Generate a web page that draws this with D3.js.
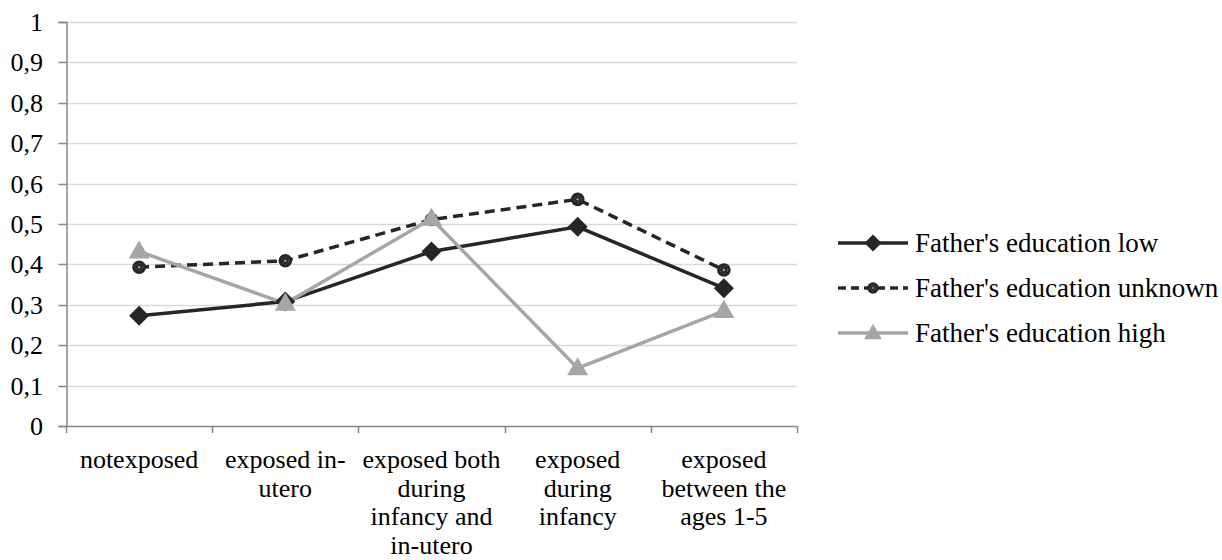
<!DOCTYPE html>
<html>
<head>
<meta charset="utf-8">
<script src="https://cdn.jsdelivr.net/npm/d3@7"></script>
</head>
<body style="margin:0">
<div id="chart"></div>
<script>
// categories, with the line breaks the labels use
var categories = ["notexposed", "exposed in-utero", "exposed both during infancy and in-utero", "exposed during infancy", "exposed between the ages 1-5"];
var categoryLines = [
    ["notexposed"],
    ["exposed in-", "utero"],
    ["exposed both", "during", "infancy and", "in-utero"],
    ["exposed", "during", "infancy"],
    ["exposed", "between the", "ages 1-5"]
];

var seriesNames = ["Father's education low", "Father's education unknown", "Father's education high"];
var lowValues = [0.273, 0.308, 0.432, 0.493, 0.341];
var unknownValues = [0.393, 0.409, 0.511, 0.561, 0.386];
var highValues = [0.432, 0.303, 0.513, 0.143, 0.285];

var yTicks = [0, 0.1, 0.2, 0.3, 0.4, 0.5, 0.6, 0.7, 0.8, 0.9, 1];

var width = 1222, height = 560;
var plot = { left: 66, right: 797, top: 22, bottom: 426 };

var svg = d3.select("#chart")
    .append("svg")
    .attr("width", width)
    .attr("height", height);

var x = d3.scaleBand().domain(categories).range([plot.left, plot.right]);
var y = d3.scaleLinear().domain([0, 1]).range([plot.bottom, plot.top]);

var locale = d3.formatLocale({ decimal: ",", thousands: ".", grouping: [3], currency: ["", ""] });
var fmt = locale.format("~g");

// helper: every text gets the serif face
function serifText(sel, size) {
    return sel.style("font-family", d => "'" + "Liberation Serif" + "'")
        .style("font-size", size + "px");
}

// gridlines
svg.append("g")
    .selectAll("line")
    .data(yTicks.slice(1))
    .join("line")
    .attr("x1", plot.left)
    .attr("x2", plot.right)
    .attr("y1", d => Math.round(y(d)) + 0.5)
    .attr("y2", d => Math.round(y(d)) + 0.5)
    .attr("stroke", "#d9d9d9")
    .attr("stroke-width", 1.5);

// y axis: ticks from d3, labels drawn as plain texts
var yAxis = svg.append("g")
    .attr("transform", "translate(" + (plot.left + 0.5) + ",0)")
    .call(d3.axisLeft(y).tickValues(yTicks).tickFormat("").tickSize(8));
yAxis.select(".domain").attr("stroke", "#868686").attr("stroke-width", 1.5);
yAxis.selectAll(".tick line").attr("stroke", "#868686").attr("stroke-width", 1.5);
yAxis.selectAll(".tick").attr("transform", d => "translate(0," + (Math.round(y(d)) + 0.5) + ")");

svg.append("g")
    .selectAll("text")
    .data(yTicks)
    .join("text")
    .attr("x", plot.left - 23)
    .attr("y", d => Math.round(y(d)) + 0.5)
    .attr("dy", "0.34em")
    .attr("text-anchor", "end")
    .attr("fill", "#000")
    .call(serifText, 26)
    .text(fmt);

// x axis line and boundary ticks
var xg = svg.append("g");
xg.append("line")
    .attr("x1", plot.left)
    .attr("x2", plot.right)
    .attr("y1", plot.bottom + 0.5)
    .attr("y2", plot.bottom + 0.5)
    .attr("stroke", "#868686")
    .attr("stroke-width", 1.5);
var bounds = categories.map(c => x(c)).concat([x.range()[1]]);
xg.selectAll("line.tick")
    .data(bounds)
    .join("line")
    .attr("class", "tick")
    .attr("x1", d => Math.round(d) + 0.5)
    .attr("x2", d => Math.round(d) + 0.5)
    .attr("y1", plot.bottom)
    .attr("y2", plot.bottom + 7)
    .attr("stroke", "#868686")
    .attr("stroke-width", 1.5);

// category labels, one text per line
var labelData = [];
categories.forEach(function(c, i) {
    categoryLines[i].forEach(function(t, j) {
        labelData.push({ cat: c, text: t, row: j });
    });
});
svg.append("g")
    .selectAll("text")
    .data(labelData)
    .join("text")
    .attr("x", d => x(d.cat) + x.bandwidth() / 2)
    .attr("y", d => plot.bottom + 42 + d.row * 28.5)
    .attr("text-anchor", "middle")
    .call(serifText, 26)
    .text(d => d.text);

var cx = d => x(d) + x.bandwidth() / 2;

var series = [
    { name: seriesNames[0], values: lowValues, color: "#262626", dash: null, shape: "diamond" },
    { name: seriesNames[1], values: unknownValues, color: "#262626", dash: "10,6", shape: "circle" },
    { name: seriesNames[2], values: highValues, color: "#a6a6a6", dash: null, shape: "triangle" }
];

var line = d3.line()
    .x((d, i) => cx(categories[i]))
    .y(d => y(d));

function drawMarker(g, shape, color, scale) {
    if (shape === "diamond") {
        g.append("path")
            .attr("d", d3.symbol().type(d3.symbolSquare).size(200 * scale * scale)())
            .attr("transform", "rotate(45)")
            .attr("fill", color);
    } else if (shape === "circle") {
        g.append("circle").attr("r", 6.8 * scale).attr("fill", color);
        g.append("circle").attr("r", 3.6 * scale).attr("fill", "none")
            .attr("stroke", "#555").attr("stroke-width", 1).attr("stroke-dasharray", "2,2");
        g.append("circle").attr("r", 1.2 * scale).attr("fill", "#9a9a9a");
    } else {
        g.append("path")
            .attr("d", d3.symbol().type(d3.symbolTriangle).size(190 * scale * scale)())
            .attr("transform", "translate(0,1)")
            .attr("fill", color);
    }
}

// lines and markers
series.forEach(function(s) {
    svg.append("path")
        .datum(s.values)
        .attr("fill", "none")
        .attr("stroke", s.color)
        .attr("stroke-width", 3.5)
        .attr("stroke-dasharray", s.dash)
        .attr("d", line);
});
series.forEach(function(s) {
    svg.append("g")
        .selectAll("g")
        .data(s.values)
        .join("g")
        .attr("transform", (d, i) => "translate(" + cx(categories[i]) + "," + y(d) + ")")
        .each(function() { drawMarker(d3.select(this), s.shape, s.color, 1); });
});

// legend
var legend = svg.append("g")
    .selectAll("g")
    .data(series)
    .join("g")
    .attr("transform", (d, i) => "translate(838," + (243 + i * 45) + ")");
legend.append("line")
    .attr("x1", 0)
    .attr("x2", 70)
    .attr("stroke", d => d.color)
    .attr("stroke-width", 3.5)
    .attr("stroke-dasharray", d => d.dash ? "8,5" : null);
legend.each(function(d) {
    var m = d3.select(this).append("g").attr("transform", "translate(35,0)");
    drawMarker(m, d.shape, d.color, 0.85);
});
legend.append("text")
    .attr("x", 77)
    .attr("dy", "0.34em")
    .call(serifText, 27)
    .text(d => d.name);
</script>
</body>
</html>
